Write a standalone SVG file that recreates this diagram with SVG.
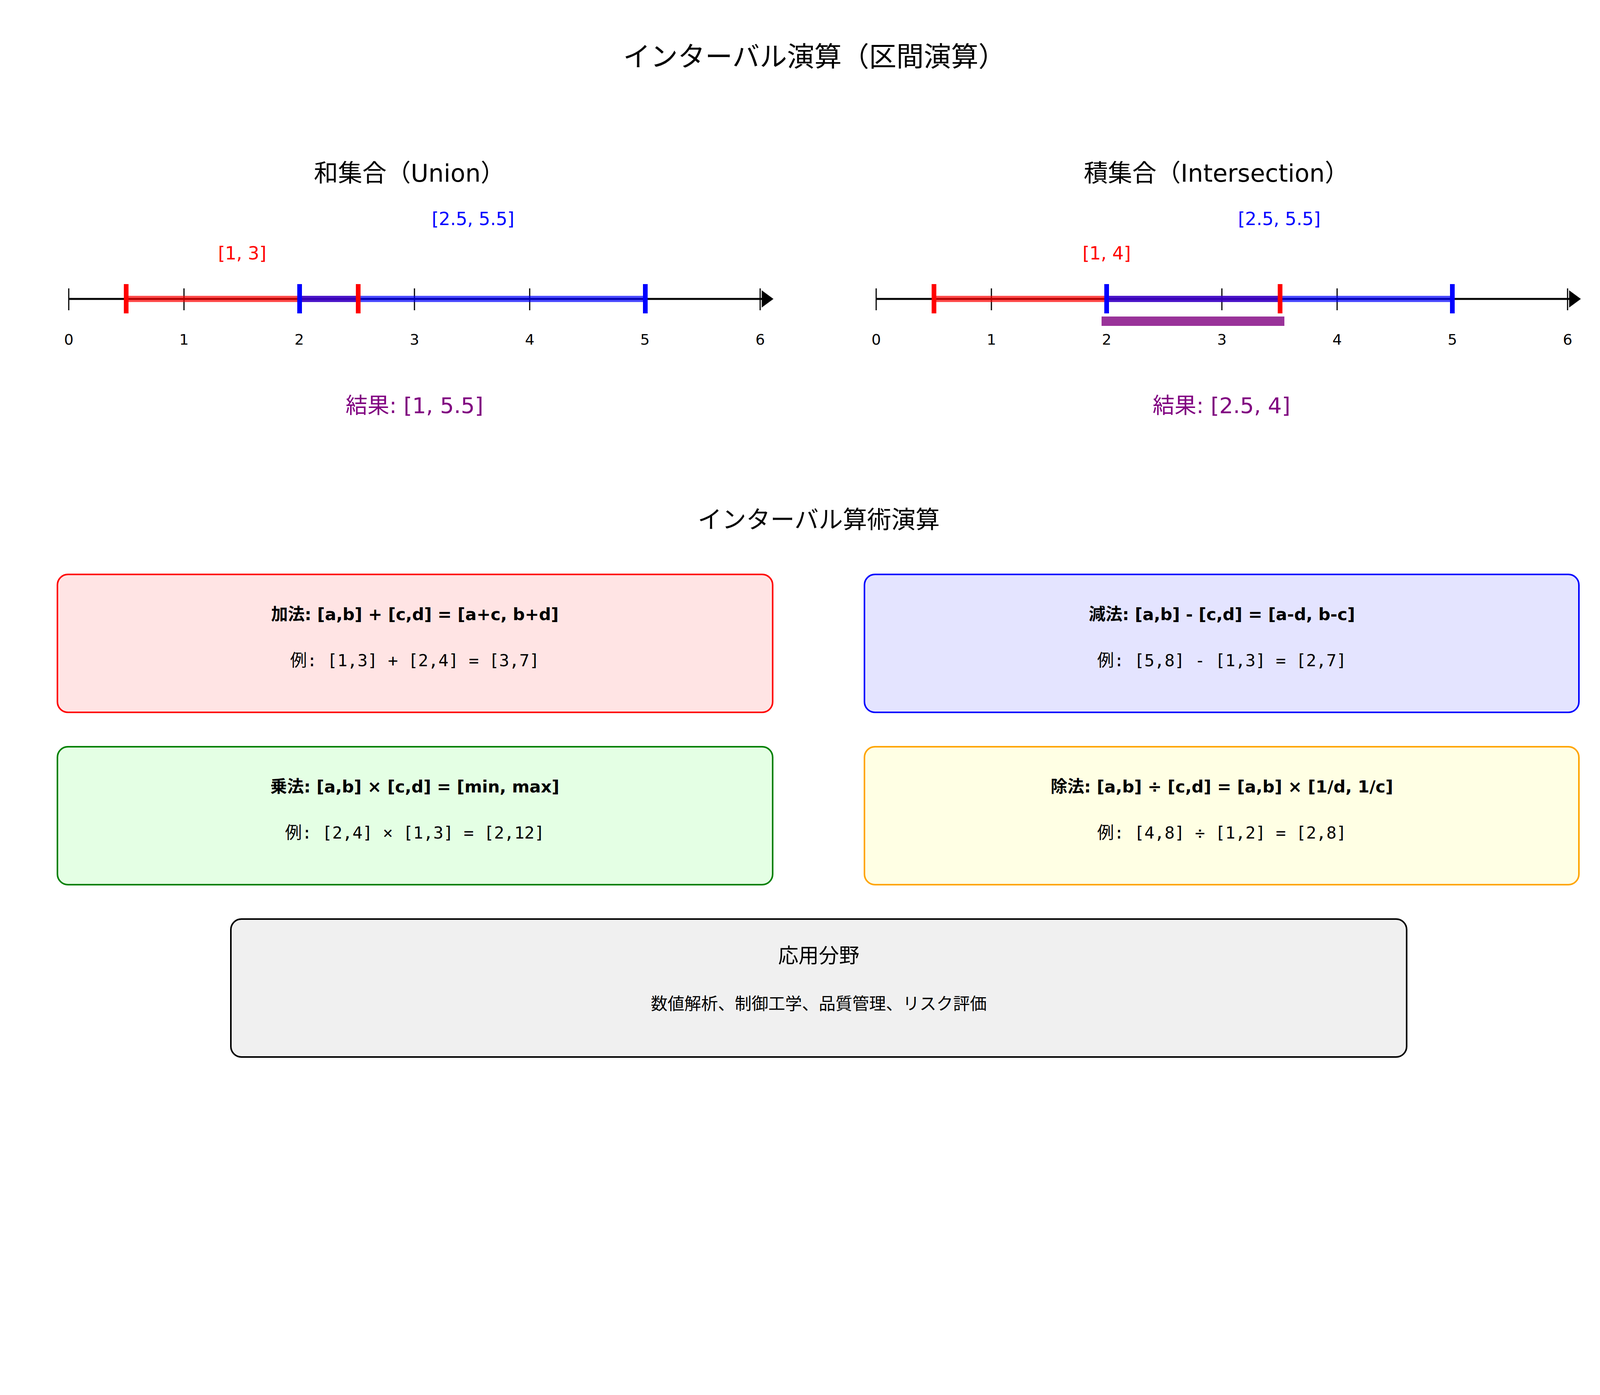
<svg xmlns="http://www.w3.org/2000/svg" width="4170" height="3570" viewBox="0 0 4170 3570">
<defs>
<marker id="arr" markerWidth="10" markerHeight="10" refX="2" refY="5" orient="auto" markerUnits="userSpaceOnUse" viewBox="0 0 10 10"><path d="M0,0 L10,5 L0,10 z" fill="#000"/></marker>
</defs>
<style>
text{font-family:"DejaVu Sans","Noto Sans CJK JP",sans-serif;text-anchor:middle}
.t{font-size:70px}.st{font-size:62px}.lab{font-size:46px}.tk{font-size:38px}.res{font-size:56px;fill:purple}
.b{font-size:43px;font-weight:bold}.m{font-size:43px;font-family:"DejaVu Sans Mono","Noto Sans CJK JP",monospace}
.ax{stroke:#000;stroke-width:5}.tick{stroke:#000;stroke-width:3}
.rb{stroke:red;stroke-width:16;stroke-opacity:0.7}.bb{stroke:blue;stroke-width:16;stroke-opacity:0.7}
.rm{stroke:red;stroke-width:12}.bm{stroke:blue;stroke-width:12}
.box{stroke-width:4}
</style>
<rect width="4170" height="3570" fill="#fff"/>
<text class="t" x="2085" y="170">インターバル演算（区間演算）</text>
<g id="union">
<text class="st" x="1048" y="465">和集合（Union）</text>
<line class="ax" x1="176" y1="765" x2="1950" y2="765"/>
<path d="M1950,743 L1980,765 L1950,787 z"/>
<g class="tick"><line x1="176" y1="738" x2="176" y2="794"/><line x1="471" y1="738" x2="471" y2="794"/><line x1="766" y1="738" x2="766" y2="794"/><line x1="1061" y1="738" x2="1061" y2="794"/><line x1="1356" y1="738" x2="1356" y2="794"/><line x1="1651" y1="738" x2="1651" y2="794"/><line x1="1946" y1="738" x2="1946" y2="794"/></g>
<g class="tk"><text x="176" y="882">0</text><text x="471" y="882">1</text><text x="766" y="882">2</text><text x="1061" y="882">3</text><text x="1356" y="882">4</text><text x="1651" y="882">5</text><text x="1946" y="882">6</text></g>
<line class="rb" x1="323" y1="765" x2="917" y2="765"/>
<line class="bb" x1="767" y1="765" x2="1652" y2="765"/>
<line class="rm" x1="323" y1="727" x2="323" y2="802"/><line class="rm" x1="917" y1="727" x2="917" y2="802"/>
<line class="bm" x1="767" y1="727" x2="767" y2="802"/><line class="bm" x1="1652" y1="727" x2="1652" y2="802"/>
<text class="lab" x="620" y="664" fill="red">[1, 3]</text>
<text class="lab" x="1211" y="576" fill="blue">[2.5, 5.5]</text>
<text class="res" x="1061" y="1057">結果: [1, 5.5]</text>
</g>
<g id="intersection">
<text class="st" x="3114" y="465">積集合（Intersection）</text>
<line class="ax" x1="2243" y1="765" x2="4017" y2="765"/>
<path d="M4017,743 L4047,765 L4017,787 z"/>
<g class="tick"><line x1="2243" y1="738" x2="2243" y2="794"/><line x1="2538" y1="738" x2="2538" y2="794"/><line x1="2833" y1="738" x2="2833" y2="794"/><line x1="3128" y1="738" x2="3128" y2="794"/><line x1="3423" y1="738" x2="3423" y2="794"/><line x1="3718" y1="738" x2="3718" y2="794"/><line x1="4013" y1="738" x2="4013" y2="794"/></g>
<g class="tk"><text x="2243" y="882">0</text><text x="2538" y="882">1</text><text x="2833" y="882">2</text><text x="3128" y="882">3</text><text x="3423" y="882">4</text><text x="3718" y="882">5</text><text x="4013" y="882">6</text></g>
<line class="rb" x1="2391" y1="765" x2="3277" y2="765"/>
<line class="bb" x1="2833" y1="765" x2="3718" y2="765"/>
<line class="rm" x1="2391" y1="727" x2="2391" y2="802"/><line class="rm" x1="3277" y1="727" x2="3277" y2="802"/>
<line class="bm" x1="2833" y1="727" x2="2833" y2="802"/><line class="bm" x1="3718" y1="727" x2="3718" y2="802"/>
<rect x="2820" y="810" width="468" height="24" fill="purple" fill-opacity="0.8"/>
<text class="lab" x="2833" y="664" fill="red">[1, 4]</text>
<text class="lab" x="3275" y="576" fill="blue">[2.5, 5.5]</text>
<text class="res" x="3127" y="1057">結果: [2.5, 4]</text>
</g>
<text class="t" x="2096" y="1352" style="font-size:62px">インターバル算術演算</text>
<g id="add">
<rect class="box" x="147" y="1470" width="1831" height="353" rx="27" fill="#ffe4e4" stroke="red"/>
<text class="b" x="1062" y="1587">加法: [a,b] + [c,d] = [a+c, b+d]</text>
<text class="m" x="1062" y="1705">例: [1,3] + [2,4] = [3,7]</text>
</g>
<g id="sub">
<rect class="box" x="2213" y="1470" width="1829" height="353" rx="27" fill="#e4e4ff" stroke="blue"/>
<text class="b" x="3128" y="1587">減法: [a,b] - [c,d] = [a-d, b-c]</text>
<text class="m" x="3128" y="1705">例: [5,8] - [1,3] = [2,7]</text>
</g>
<g id="mul">
<rect class="box" x="147" y="1911" width="1831" height="353" rx="27" fill="#e4ffe4" stroke="green"/>
<text class="b" x="1062" y="2028">乗法: [a,b] × [c,d] = [min, max]</text>
<text class="m" x="1062" y="2146">例: [2,4] × [1,3] = [2,12]</text>
</g>
<g id="div">
<rect class="box" x="2213" y="1911" width="1829" height="353" rx="27" fill="#ffffe4" stroke="orange"/>
<text class="b" x="3128" y="2028">除法: [a,b] ÷ [c,d] = [a,b] × [1/d, 1/c]</text>
<text class="m" x="3128" y="2146">例: [4,8] ÷ [1,2] = [2,8]</text>
</g>
<g id="apps">
<rect class="box" x="591" y="2352" width="3010" height="353" rx="27" fill="#f0f0f0" stroke="#000"/>
<text x="2096" y="2464" style="font-size:52px">応用分野</text>
<text x="2096" y="2584" style="font-size:43px">数値解析、制御工学、品質管理、リスク評価</text>
</g>
</svg>
